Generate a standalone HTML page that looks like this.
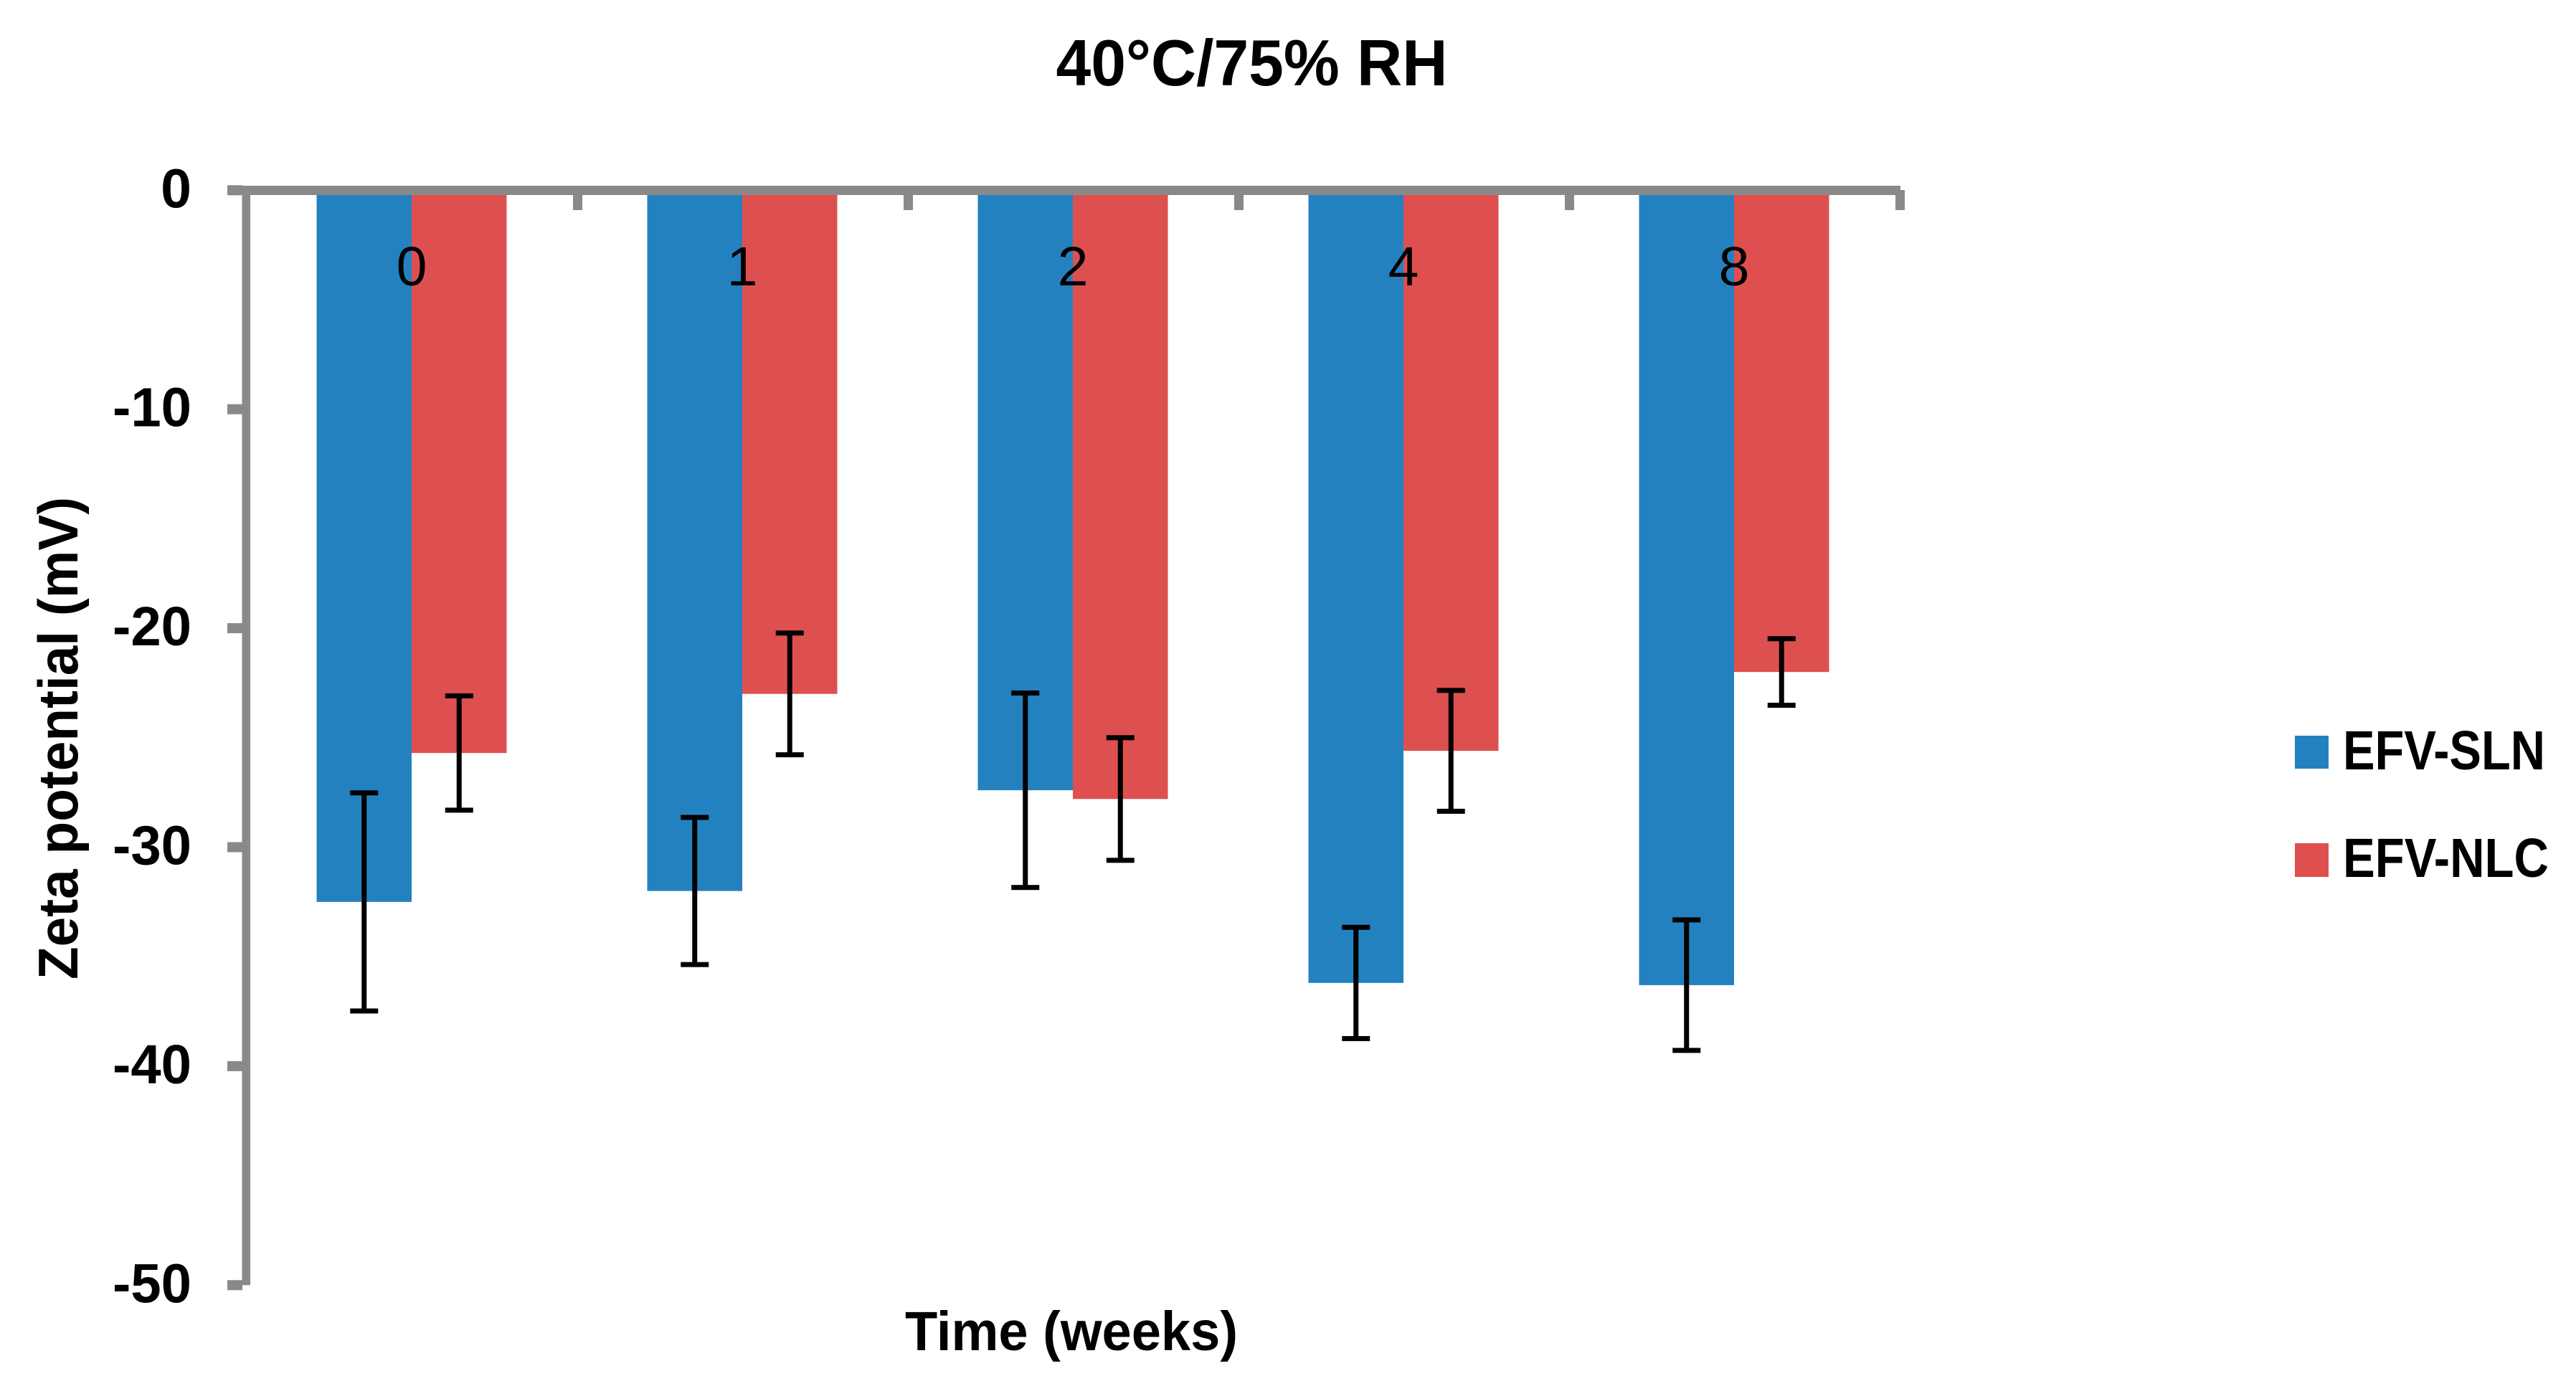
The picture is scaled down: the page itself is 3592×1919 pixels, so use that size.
<!DOCTYPE html>
<html lang="en">
<head>
<meta charset="utf-8">
<title>40°C/75% RH Zeta potential chart</title>
<style>
  html, body { margin: 0; padding: 0; background: #ffffff; }
  #chart-root { display: block; width: 3592px; height: 1919px; }
  text { font-family: "Liberation Sans", sans-serif; fill: #000000; }
  .bold { font-weight: 700; }
</style>
</head>
<body>
<svg id="chart-root" xmlns="http://www.w3.org/2000/svg" width="3592" height="1919" viewBox="0 0 3592 1919">
  <rect x="0" y="0" width="3592" height="1919" fill="#ffffff"/>
  <g id="bars"></g>
  <g id="category-labels"></g>
  <g id="axes"></g>
  <g id="y-labels"></g>
  <g id="errors"></g>

  <text class="bold" x="1745.5" y="119" font-size="91" text-anchor="middle" textLength="546" lengthAdjust="spacingAndGlyphs">40°C/75% RH</text>
  <text class="bold" transform="translate(108 1029.5) rotate(-90)" x="0" y="0" font-size="78" text-anchor="middle" textLength="673" lengthAdjust="spacingAndGlyphs">Zeta potential (mV)</text>
  <text class="bold" x="1494" y="1883" font-size="77" text-anchor="middle" textLength="464" lengthAdjust="spacingAndGlyphs">Time (weeks)</text>

  <g>
    <g>
      <rect x="3200" y="1026" width="47" height="46" fill="#2481C0"/>
      <text class="bold" x="3267" y="1073" font-size="77" textLength="282" lengthAdjust="spacingAndGlyphs">EFV-SLN</text>
    </g>
    <g>
      <rect x="3200" y="1176" width="47" height="47" fill="#DE504F"/>
      <text class="bold" x="3267" y="1223" font-size="77" textLength="287" lengthAdjust="spacingAndGlyphs">EFV-NLC</text>
    </g>
  </g>
</svg>

<script>
const categories = ["0", "1", "2", "4", "8"];
const slnValues = [-32.5, -32.0, -27.4, -36.2, -36.3];
const nlcValues = [-25.7, -23.0, -27.8, -25.6, -22.0];
const slnErrors = [4.98, 3.36, 4.44, 2.54, 2.98];
const nlcErrors = [2.61, 2.78, 2.80, 2.76, 1.52];
const yTickValues = [0, -10, -20, -30, -40, -50];

const SVG_NS = "http://www.w3.org/2000/svg";
const PLOT_LEFT = 343.5;
const BAND = 461;
const BAR_WIDTH = 132.5;
const Y_ZERO = 265.3;
const Y_UNIT = 30.54;
const AXIS_COLOR = "#898989";
const SLN_COLOR = "#2481C0";
const NLC_COLOR = "#DE504F";

function yScale(v) { return Y_ZERO - v * Y_UNIT; }
function xCenter(i) { return PLOT_LEFT + BAND * (i + 0.5); }
function xEdge(i) { return PLOT_LEFT + BAND * i; }

function makeRect(parent, x, y, w, h, fill) {
  const r = document.createElementNS(SVG_NS, "rect");
  r.setAttribute("x", x);
  r.setAttribute("y", y);
  r.setAttribute("width", w);
  r.setAttribute("height", h);
  r.setAttribute("fill", fill);
  parent.appendChild(r);
  return r;
}

const barsLayer = document.getElementById("bars");
const errorsLayer = document.getElementById("errors");
const catLayer = document.getElementById("category-labels");
const axesLayer = document.getElementById("axes");
const yLabelLayer = document.getElementById("y-labels");

function drawBar(i, value, x, color, seriesName) {
  const top = yScale(0);
  const bar = makeRect(barsLayer, x, top, BAR_WIDTH, yScale(value) - top, color);
  
  
}

function drawError(i, value, err, cx, seriesName) {
  const yTop = yScale(value + err);
  const yBottom = yScale(value - err);
  const g = document.createElementNS(SVG_NS, "g");
  
  
  errorsLayer.appendChild(g);
  makeRect(g, cx - 3.5, yTop, 7, yBottom - yTop, "#000000");
  makeRect(g, cx - 19.5, yTop - 3.5, 39, 7, "#000000");
  makeRect(g, cx - 19.5, yBottom - 3.5, 39, 7, "#000000");
}

categories.forEach(function (cat, i) {
  const cx = xCenter(i);
  drawBar(i, slnValues[i], cx - BAR_WIDTH, SLN_COLOR, 'efv-sln');
  drawBar(i, nlcValues[i], cx, NLC_COLOR, 'efv-nlc');
  drawError(i, slnValues[i], slnErrors[i], cx - BAR_WIDTH / 2, 'efv-sln');
  drawError(i, nlcValues[i], nlcErrors[i], cx + BAR_WIDTH / 2, 'efv-nlc');

  const t = document.createElementNS(SVG_NS, "text");
  t.setAttribute("x", cx);
  t.setAttribute("y", 398);
  t.setAttribute("font-size", 77);
  t.setAttribute("text-anchor", "middle");
  
  
  t.textContent = cat;
  catLayer.appendChild(t);
});

/* axis lines */
const yAxisLine = makeRect(axesLayer, 337.5, yScale(0), 11.5, yScale(yTickValues[yTickValues.length - 1]) - yScale(0), AXIS_COLOR);



const xAxisLine = makeRect(axesLayer, 317, 259, 2333, 13, AXIS_COLOR);



/* x ticks */
for (let i = 1; i <= categories.length; i++) {
  const tick = makeRect(axesLayer, xEdge(i) - 5.5, 265, 13, 28, AXIS_COLOR);
  
  
}

/* y ticks and labels */
yTickValues.forEach(function (v) {
  const y = yScale(v);
  const tick = makeRect(axesLayer, 317, y - 7, 21, 14, AXIS_COLOR);
  
  

  const t = document.createElementNS(SVG_NS, "text");
  t.setAttribute("x", 267);
  t.setAttribute("y", y + 24);
  t.setAttribute("font-size", 77);
  t.setAttribute("font-weight", 700);
  t.setAttribute("text-anchor", "end");
  
  
  t.textContent = String(v);
  if (String(v).length > 1) {
    t.setAttribute("textLength", 110);
    t.setAttribute("lengthAdjust", "spacingAndGlyphs");
  }
  yLabelLayer.appendChild(t);
});
</script>
</body>
</html>
